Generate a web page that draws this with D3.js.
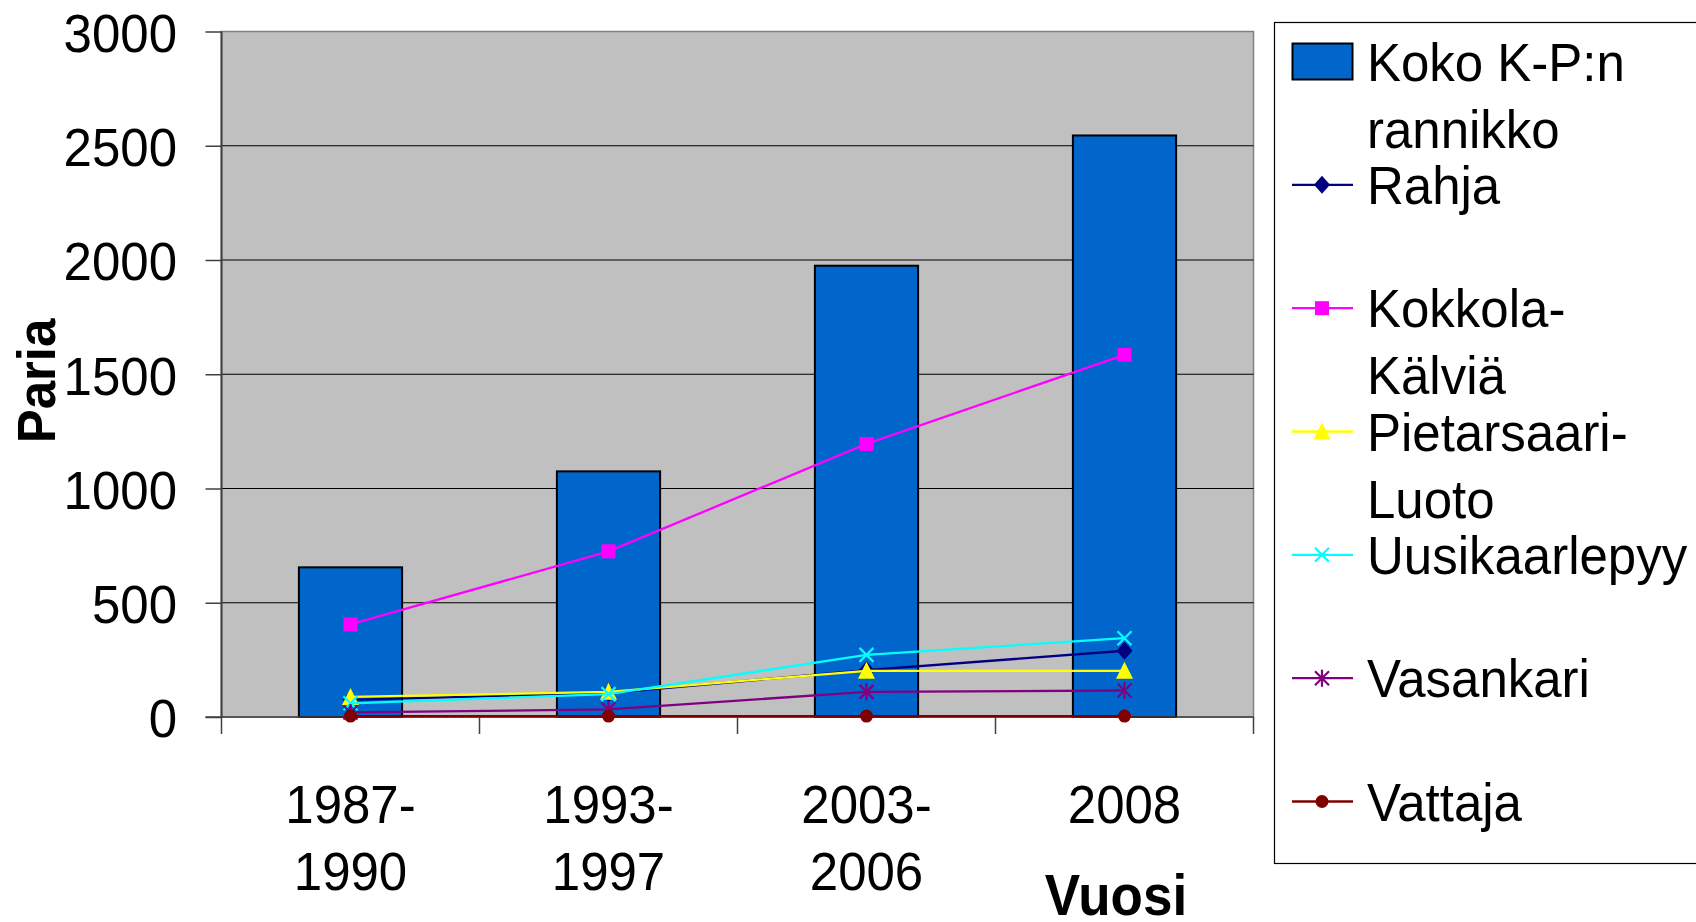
<!DOCTYPE html>
<html>
<head>
<meta charset="utf-8">
<script src="https://cdn.jsdelivr.net/npm/d3@7"></script>
<style>
body { margin: 0; background: #fff; }
text { font-family: "Liberation Sans", Arial, sans-serif; fill: #000; }
</style>
</head>
<body>
<svg id="chart" width="1696" height="922"></svg>
<script>
// data
const categories = ["1987-\n1990", "1993-\n1997", "2003-\n2006", "2008"]
const koko = [655, 1075, 1975, 2545]
const rahja = [75, 105, 205, 290]
const kokkola = [405, 725, 1195, 1585]
const pietarsaari = [88, 110, 202, 202]
const uusikaarlepyy = [60, 100, 272, 345]
const vasankari = [20, 33, 110, 116]
const vattaja = [4, 4, 4, 4]
const yTicks = [0, 500, 1000, 1500, 2000, 2500, 3000]

const lineSeries = [
    { name: ["Rahja"], values: rahja, color: "#000080", marker: "diamond" },
    { name: ["Kokkola-", "Kälviä"], values: kokkola, color: "#FF00FF", marker: "square" },
    { name: ["Pietarsaari-", "Luoto"], values: pietarsaari, color: "#FFFF00", marker: "triangle" },
    { name: ["Uusikaarlepyy"], values: uusikaarlepyy, color: "#00FFFF", marker: "x" },
    { name: ["Vasankari"], values: vasankari, color: "#800080", marker: "star" },
    { name: ["Vattaja"], values: vattaja, color: "#800000", marker: "circle" }
]

const plotLeft = 221.5, plotRight = 1253.5, plotTop = 31.5, plotBottom = 717
const fontSize = 51
const stretch = 1.07   // text in the picture is a bit taller than wide

const svg = d3.select("#chart")

const y = d3.scaleLinear().domain([0, 3000]).range([plotBottom, plotTop])
const xBand = d3.scaleBand().domain(categories).range([plotLeft, plotRight]).padding(0)
const xBar = d3.scaleBand().domain(categories).range([plotLeft, plotRight])
    .paddingInner(0.6).paddingOuter(0.3)
const cx = c => xBand(c) + xBand.bandwidth() / 2

// plot background
svg.append("rect")
    .attr("x", plotLeft).attr("y", plotTop)
    .attr("width", plotRight - plotLeft).attr("height", plotBottom - plotTop)
    .attr("fill", "#C0C0C0")
    .attr("stroke", "#808080").attr("stroke-width", 1.5)

// gridlines
svg.append("g").selectAll("line")
    .data(yTicks.filter(d => d > 0 && d < 3000))
    .enter().append("line")
    .attr("x1", plotLeft).attr("x2", plotRight)
    .attr("y1", d => y(d)).attr("y2", d => y(d))
    .attr("stroke", "#000").attr("stroke-width", 1.2)

// y axis
const yAxis = d3.axisLeft(y).tickValues(yTicks).tickFormat(d3.format("d"))
    .tickSize(16).tickSizeOuter(0).tickPadding(28.5)
const yg = svg.append("g").attr("transform", `translate(${plotLeft},0)`).call(yAxis)
yg.select(".domain").remove()
yg.selectAll(".tick line").attr("stroke", "#404040").attr("stroke-width", 1.5)
yg.selectAll(".tick text")
    .style("font-size", fontSize + "px")
    .style("font-family", '"Liberation Sans", Arial, sans-serif')
    .attr("dy", null)
    .attr("y", 18.5)
    .attr("transform", `scale(1,${stretch})`)
svg.append("line")
    .attr("x1", plotLeft).attr("x2", plotLeft).attr("y1", plotTop).attr("y2", plotBottom)
    .attr("stroke", "#404040").attr("stroke-width", 2)

// bars
svg.append("g").selectAll("rect")
    .data(categories)
    .enter().append("rect")
    .attr("x", d => xBar(d))
    .attr("width", xBar.bandwidth())
    .attr("y", (d, i) => y(koko[i]))
    .attr("height", (d, i) => plotBottom - y(koko[i]))
    .attr("fill", "#0066CC")
    .attr("stroke", "#000").attr("stroke-width", 2)

// x axis line and ticks at the category borders
svg.append("line")
    .attr("x1", plotLeft - 16).attr("x2", plotRight).attr("y1", plotBottom).attr("y2", plotBottom)
    .attr("stroke", "#404040").attr("stroke-width", 1.5)
const borders = categories.map(c => xBand(c)).concat([plotRight])
svg.append("g").selectAll("line")
    .data(borders)
    .enter().append("line")
    .attr("x1", d => d).attr("x2", d => d)
    .attr("y1", plotBottom).attr("y2", plotBottom + 17)
    .attr("stroke", "#404040").attr("stroke-width", 1.5)

// x labels
const xl = svg.append("g").selectAll("g")
    .data(categories)
    .enter().append("g")
    .attr("transform", d => `translate(${cx(d)},0)`)
xl.selectAll("text")
    .data(d => d.split("\n"))
    .enter().append("text")
    .attr("text-anchor", "middle")
    .attr("transform", (d, i) => `translate(0,${823 + i * 67}) scale(1,${stretch})`)
    .style("font-size", fontSize + "px")
    .text(d => d)

// marker shapes
function markerPath(type) {
    if (type == "diamond") return "M0,-9L8,0L0,9L-8,0Z"
    if (type == "square") return "M-7,-7h14v14h-14Z"
    if (type == "triangle") return "M0,-9L8.5,8L-8.5,8Z"
    if (type == "x") return "M-7,-7L7,7M-7,7L7,-7"
    if (type == "star") return "M-7,-7L7,7M-7,7L7,-7M0,-8.5L0,8.5"
    return null
}
function drawMarker(sel, s) {
    if (s.marker == "circle") {
        sel.append("circle").attr("r", 6.5).attr("fill", s.color)
        return
    }
    const open = s.marker == "x" || s.marker == "star"
    sel.append("path")
        .attr("d", markerPath(s.marker))
        .attr("fill", open ? "none" : s.color)
        .attr("stroke", open ? s.color : "none")
        .attr("stroke-width", 2.2)
}

// line series
const line = d3.line().x((d, i) => cx(categories[i])).y(d => y(d))
lineSeries.forEach(s => {
    const sg = svg.append("g")
    sg.append("path")
        .attr("d", line(s.values))
        .attr("fill", "none")
        .attr("stroke", s.color)
        .attr("stroke-width", 2.3)
    s.values.forEach((v, i) => {
        const m = sg.append("g").attr("transform", `translate(${cx(categories[i])},${y(v)})`)
        drawMarker(m, s)
    })
})

// axis titles
svg.append("text")
    .attr("transform", `translate(1116,915) scale(1,${stretch})`)
    .attr("text-anchor", "middle")
    .style("font-size", "53px").style("font-weight", "bold")
    .text("Vuosi")
svg.append("text")
    .attr("transform", `translate(55,381) rotate(-90) scale(1,${stretch})`)
    .attr("text-anchor", "middle")
    .style("font-size", fontSize + "px").style("font-weight", "bold")
    .text("Paria")

// legend
svg.append("rect")
    .attr("x", 1274.5).attr("y", 22.5)
    .attr("width", 440).attr("height", 841)
    .attr("fill", "#fff").attr("stroke", "#000").attr("stroke-width", 1.2)

const legendItems = [{ name: ["Koko K-P:n", "rannikko"], bar: true }].concat(lineSeries)
const legendY = d3.scaleLinear().domain([0, 6]).range([61.5, 801.5])
legendItems.forEach((s, i) => {
    const ly = legendY(i)
    const lg = svg.append("g")
    if (s.bar) {
        lg.append("rect")
            .attr("x", 1292.5).attr("y", ly - 18)
            .attr("width", 60).attr("height", 36)
            .attr("fill", "#0066CC").attr("stroke", "#000").attr("stroke-width", 2)
    } else {
        lg.append("line")
            .attr("x1", 1292).attr("x2", 1353).attr("y1", ly).attr("y2", ly)
            .attr("stroke", s.color).attr("stroke-width", 2.3)
        drawMarker(lg.append("g").attr("transform", `translate(1322,${ly})`), s)
    }
    s.name.forEach((t, k) => {
        lg.append("text")
            .attr("transform", `translate(1367,${ly + 19 + k * 67}) scale(1,${stretch})`)
            .style("font-size", fontSize + "px")
            .text(t)
    })
})
</script>
</body>
</html>
